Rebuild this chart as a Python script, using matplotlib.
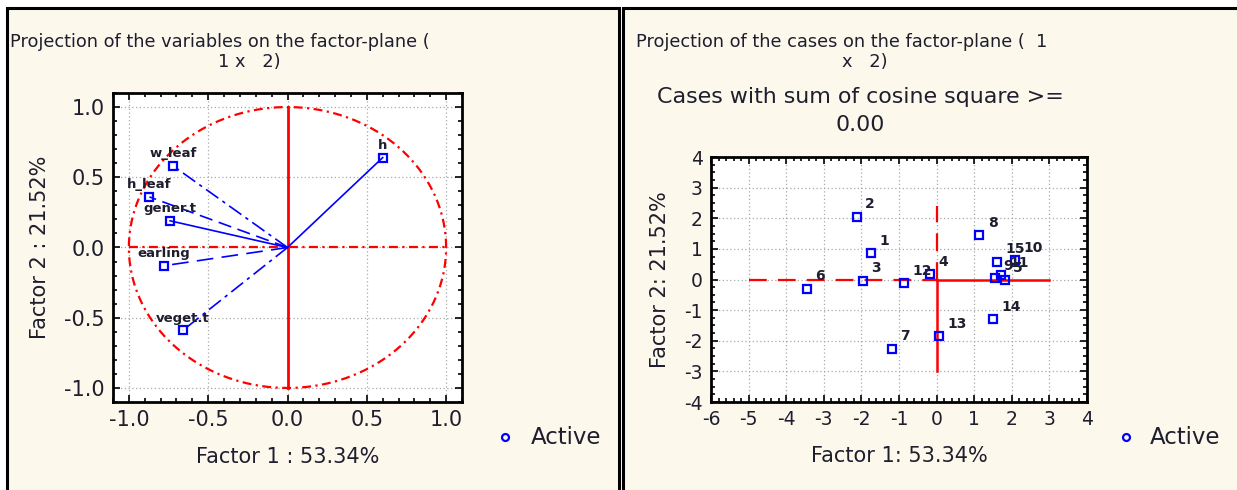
import matplotlib.pyplot as plt
import matplotlib.patches as mpatches
from matplotlib.ticker import MultipleLocator
import numpy as np

W, H = 1237, 490
CREAM = "#fdf8ec"
TXT = "#1e1e2e"
BLUE = "#0000ff"
RED = "#ff0000"

# variable loadings on factor 1 / factor 2
var_names = ["w_leaf", "h_leaf", "gener.t", "earling", "veget.t", "h"]
var_f1 = [-0.72, -0.87, -0.74, -0.78, -0.66, 0.60]
var_f2 = [0.58, 0.36, 0.19, -0.13, -0.59, 0.64]
var_styles = [(0, (9, 3, 2, 3)), (0, (8, 4)), "-", (0, (10, 5)), (0, (9, 3, 2, 3)), "-"]

# case scores on factor 1 / factor 2
case_ids = [str(i) for i in range(1, 16)]
case_f1 = [-1.75, -2.12, -1.95, -0.18, 1.82, -3.44, -1.19, 1.14, 1.55, 2.09, 1.72, -0.87, 0.07, 1.51, 1.60]
case_f2 = [0.85, 2.05, -0.04, 0.17, -0.02, -0.31, -2.27, 1.45, 0.04, 0.63, 0.14, -0.13, -1.85, -1.30, 0.58]

# reference cross on the cases plot
cross_h_dash = [-5, 0]
cross_h_solid = [0, 3]
cross_v_dash = [0, 2.4]
cross_v_solid = [0, -3]

plt.rcParams["font.family"] = ["DejaVu Sans"]
plt.rcParams["axes.unicode_minus"] = False

fig = plt.figure(figsize=(W / 100, H / 100), dpi=100)
fig.patch.set_facecolor("white")


def fx(px):
    return px / W


def fy(py):
    return 1 - py / H


# two framed panels
for x0, x1 in [(7, 619), (623, 1245)]:
    fig.patches.append(mpatches.Rectangle((fx(x0), -0.05), fx(x1 - x0), fy(8) + 0.05,
                                          transform=fig.transFigure, facecolor=CREAM,
                                          edgecolor="black", linewidth=2.2, zorder=-10))


def style_axes(ax, major_x, minor_x, major_y, minor_y, fs):
    ax.set_facecolor("white")
    ax.xaxis.set_major_locator(MultipleLocator(major_x))
    ax.xaxis.set_minor_locator(MultipleLocator(minor_x))
    ax.yaxis.set_major_locator(MultipleLocator(major_y))
    ax.yaxis.set_minor_locator(MultipleLocator(minor_y))
    ax.tick_params(which="both", direction="in", top=True, right=True, colors="black",
                   labelcolor=TXT, labelsize=fs, width=1.2)
    ax.tick_params(which="major", length=5, pad=6)
    ax.tick_params(which="minor", length=3)
    ax.grid(True, which="major", linestyle=(0, (1, 2)), color="#a8a8a8", linewidth=0.9)
    for s in ax.spines.values():
        s.set_linewidth(2)
        s.set_color("black")


# ---- left: variables on the factor plane
ax1 = fig.add_axes([fx(113), fy(402), fx(462 - 113), fy(93) - fy(402)])
style_axes(ax1, 0.5, 0.1, 0.5, 0.1, 15)
ax1.set_xlim(-1.1, 1.1)
ax1.set_ylim(-1.1, 1.1)
ax1.xaxis.set_major_formatter(lambda v, p: f"{v:.1f}".replace("-0.0", "0.0"))
ax1.yaxis.set_major_formatter(lambda v, p: f"{v:.1f}".replace("-0.0", "0.0"))

t = np.linspace(0, 2 * np.pi, 300)
ax1.plot(np.cos(t), np.sin(t), color=RED, linestyle=(0, (4, 2, 1, 2)), linewidth=1.6)
ax1.plot([0, 0], [-1, 1], color=RED, linewidth=2)
ax1.plot([-1, 1], [0, 0], color=RED, linestyle=(0, (4, 2, 1, 2)), linewidth=1.6)

for name, x, y, ls in zip(var_names, var_f1, var_f2, var_styles):
    ax1.plot([0, x], [0, y], color=BLUE, linestyle=ls, linewidth=1.2)
    ax1.plot(x, y, marker="s", markersize=6, markerfacecolor="none",
             markeredgecolor=BLUE, markeredgewidth=1.6)
    ax1.annotate(name, (x, y), xytext=(0, 4), textcoords="offset points",
                 ha="center", va="bottom", fontsize=9.5, fontweight="bold", color=TXT)

ax1.set_xlabel("Factor 1 : 53.34%", fontsize=15, color=TXT, labelpad=12)
ax1.set_ylabel("Factor 2 : 21.52%", fontsize=15, color=TXT, labelpad=10)

fig.text(fx(10), fy(42), "Projection of the variables on the factor-plane (",
         fontsize=12.8, color=TXT, ha="left", va="center")
fig.text(fx(249), fy(62), "1 x   2)", fontsize=12.8, color=TXT, ha="center", va="center")

# ---- right: cases on the factor plane
ax2 = fig.add_axes([fx(711), fy(402), fx(1087 - 711), fy(157) - fy(402)])
style_axes(ax2, 1, 0.2, 1, 0.25, 13.5)
ax2.set_xlim(-6, 4)
ax2.set_ylim(-4, 4)

ax2.plot(cross_h_dash, [0, 0], color=RED, linestyle=(0, (8, 5)), linewidth=1.6)
ax2.plot(cross_h_solid, [0, 0], color=RED, linewidth=1.8)
ax2.plot([0, 0], cross_v_dash, color=RED, linestyle=(0, (8, 5)), linewidth=1.6)
ax2.plot([0, 0], cross_v_solid, color=RED, linewidth=1.8)

ax2.plot(case_f1, case_f2, linestyle="none", marker="s", markersize=6,
         markerfacecolor="none", markeredgecolor=BLUE, markeredgewidth=1.6)
for cid, x, y in zip(case_ids, case_f1, case_f2):
    ax2.annotate(cid, (x, y), xytext=(6, 4), textcoords="offset points",
                 ha="left", va="bottom", fontsize=10, fontweight="bold", color=TXT)

ax2.set_xlabel("Factor 1: 53.34%", fontsize=15, color=TXT, labelpad=12)
ax2.set_ylabel("Factor 2: 21.52%", fontsize=15, color=TXT, labelpad=10)

fig.text(fx(636), fy(42), "Projection of the cases on the factor-plane (  1",
         fontsize=12.8, color=TXT, ha="left", va="center")
fig.text(fx(865), fy(62), "x   2)", fontsize=12.8, color=TXT, ha="center", va="center")
fig.text(fx(860), fy(97), "Cases with sum of cosine square >=",
         fontsize=15.9, color=TXT, ha="center", va="center")
fig.text(fx(860), fy(125), "0.00", fontsize=15.9, color=TXT, ha="center", va="center")

# legends
for mx, tx in [(505, 531), (1126, 1150)]:
    fig.lines.append(plt.Line2D([fx(mx)], [fy(437)], marker="o", markersize=5,
                                markerfacecolor="none", markeredgecolor=BLUE,
                                markeredgewidth=1.6, transform=fig.transFigure))
    fig.text(fx(tx), fy(437), "Active", fontsize=16.5, color=TXT, ha="left", va="center")

fig.savefig("out.png", dpi=100, facecolor=fig.get_facecolor())
